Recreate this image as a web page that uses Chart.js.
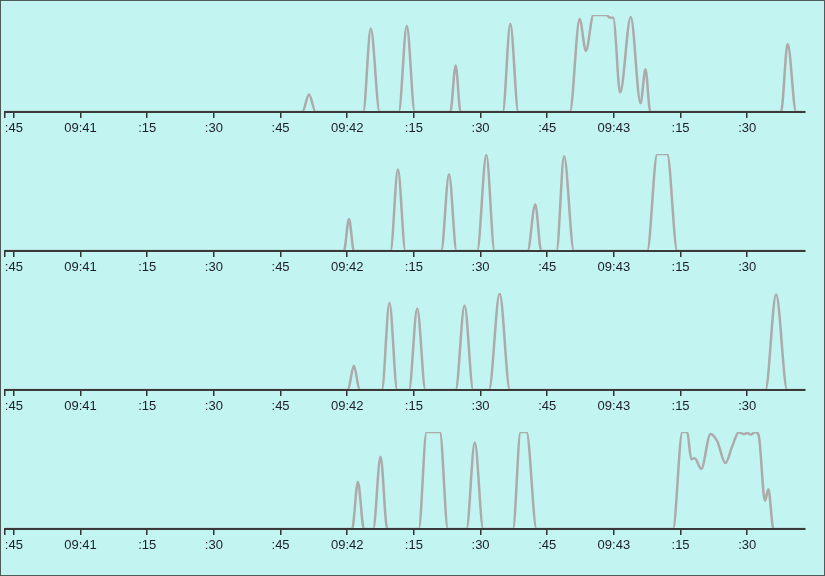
<!DOCTYPE html>
<html lang="en">

<head>
  <meta charset="UTF-8">
  <title>Activity</title>
  <script src="https://cdn.jsdelivr.net/npm/chart.js"></script>
  <style>
    body {
      margin: 0;
      padding: 0;
    }

    #wrap {
      position: relative;
      width: 825px;
      height: 576px;
      background: #c2f4f2;
      overflow: hidden;
    }

    #wrap .panel {
      position: absolute;
      left: 0;
      width: 825px;
      height: 139px;
    }

    #frame {
      position: absolute;
      left: 0;
      top: 0;
      width: 825px;
      height: 576px;
      box-sizing: border-box;
      border: 1px solid #4f5b5b;
      pointer-events: none;
    }
  </style>
</head>

<body>
  <div id="wrap">
    <div class="panel" style="top:0px"><canvas id="c1"></canvas></div>
    <div class="panel" style="top:139px"><canvas id="c2"></canvas></div>
    <div class="panel" style="top:278px"><canvas id="c3"></canvas></div>
    <div class="panel" style="top:417px"><canvas id="c4"></canvas></div>
    <div id="frame"></div>
  </div>
  <script>
    // x = seconds after 09:40:00, y = level (100 = top of panel)
    const xMin = 43;
    const xMax = 223;

    const tickSeconds = [43, 45, 60, 75, 90, 105, 120, 135, 150, 165, 180, 195, 210];
    const tickLabels = ['', ':45', '09:41', ':15', ':30', ':45', '09:42', ':15', ':30', ':45', '09:43', ':15', ':30'];

    const times1 = [43, 109.9, 111.4, 112.9, 123.6, 125.3, 127.3, 131.6, 133.4, 135.2, 143.2, 144.4, 145.5,
      155.0, 156.7, 158.5, 170.1, 172.3, 173.7, 175.4, 178.4, 178.9, 179.9, 181.4, 183.8, 186.0, 187.1, 188.2,
      217.6, 219.1, 221.0, 223];
    const values1 = [0, 0, 18, 0, 0, 86, 0, 0, 89, 0, 0, 48, 0,
      0, 91, 0, 0, 96, 63, 100, 100, 97.5, 97, 20, 98, 9, 44, 0,
      0, 70, 0, 0];

    const times2 = [43, 119.25, 120.4, 121.5, 129.75, 131.4, 133.1, 141.15, 142.9, 144.6, 149.25, 151.3, 153.15,
      160.6, 162.3, 163.65, 167.1, 168.8, 171.0, 187.5, 189.75, 192.0, 194.25, 223];
    const values2 = [0, 0, 33, 0, 0, 84, 0, 0, 79, 0, 0, 99, 0,
      0, 48, 0, 0, 97.6, 0, 0, 100, 100, 0, 0];

    const times3 = [43, 120.15, 121.5, 122.8, 127.8, 129.5, 131.25, 133.9, 135.75, 137.6, 144.4, 146.4, 148.35,
      151.9, 154.3, 156.6, 214.1, 216.5, 219.0, 223];
    const values3 = [0, 0, 25, 0, 0, 90, 0, 0, 84, 0, 0, 87, 0,
      0, 99.5, 0, 0, 98.5, 0, 0];

    const times4 = [43, 121.1, 122.4, 123.75, 125.85, 127.5, 129.0, 136.1, 137.85, 140.85, 142.65,
      146.85, 148.7, 150.6, 157.3, 159.0, 160.35, 162.6,
      193.3, 195.4, 196.5, 197.4, 198.2, 199.65, 201.75, 203.25, 205.1, 206.6, 208.1, 209.25, 210.0,
      210.75, 211.9, 212.6, 214.0, 214.75, 215.9, 223];
    const values4 = [0, 0, 48.5, 0, 0, 74.4, 0, 0, 100, 100, 0,
      0, 89.4, 0, 0, 100, 100, 0,
      0, 100, 100, 72, 73, 62, 98, 90.5, 68, 85, 99.7, 97.7, 99,
      97.3, 100, 96, 29, 41, 0, 0];

    function chartMaker(canvasId, times, values) {
      const points = times.map((t, i) => ({ x: t, y: values[i] }));

      new Chart(document.getElementById(canvasId), {
        type: 'line',
        data: {
          datasets: [{
            data: points,
            borderColor: '#acaaaa',
            borderWidth: 2.5,
            pointRadius: 0,
            cubicInterpolationMode: 'monotone',
            fill: false
          }]
        },
        options: {
          responsive: true,
          maintainAspectRatio: false,
          animation: false,
          events: [],
          layout: {
            padding: { left: 5, right: 20, top: 15, bottom: 0 }
          },
          plugins: {
            legend: { display: false },
            tooltip: { enabled: false }
          },
          scales: {
            x: {
              type: 'linear',
              min: xMin,
              max: xMax,
              z: 1,
              afterBuildTicks: (scale) => {
                scale.ticks = tickSeconds.map(v => ({ value: v }));
              },
              afterFit: (scale) => {
                scale.height = 27;
              },
              grid: {
                drawOnChartArea: false,
                drawTicks: true,
                tickLength: 6,
                color: '#333333',
                lineWidth: 1.5,
                z: 1
              },
              border: {
                display: true,
                color: '#3a3a3a',
                width: 2,
                z: 1
              },
              ticks: {
                autoSkip: false,
                maxRotation: 0,
                padding: 3,
                color: '#1e1e28',
                font: { family: '"Liberation Sans", Arial, sans-serif', size: 13 },
                callback: (value) => {
                  const i = tickSeconds.indexOf(value);
                  return i >= 0 ? tickLabels[i] : '';
                }
              }
            },
            y: {
              display: false,
              min: 0,
              max: 100
            }
          }
        }
      });
    }

    chartMaker('c1', times1, values1);
    chartMaker('c2', times2, values2);
    chartMaker('c3', times3, values3);
    chartMaker('c4', times4, values4);
  </script>
</body>

</html>
